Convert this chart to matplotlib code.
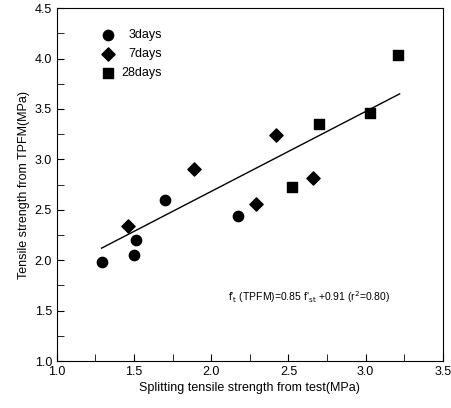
import matplotlib
matplotlib.use("Agg")
import matplotlib.pyplot as plt

# data (splitting test vs TPFM, MPa)
x_3d = [1.29, 1.51, 1.50, 1.70, 2.17]
y_3d = [1.98, 2.20, 2.05, 2.60, 2.44]
x_7d = [1.46, 1.89, 2.29, 2.42, 2.66]
y_7d = [2.34, 2.90, 2.56, 3.24, 2.82]
x_28d = [2.52, 2.70, 3.03, 3.21]
y_28d = [2.73, 3.35, 3.46, 4.04]
fit_x = [1.29, 3.22]
fit_y = [2.12, 3.65]

plt.rcParams['font.family'] = ['Liberation Sans', 'DejaVu Sans']

fig = plt.figure(figsize=(4.51, 4.08), dpi=100)
ax = fig.add_axes([0.126, 0.115, 0.856, 0.865])

ax.scatter(x_3d, y_3d, marker='o', s=55, color='black', zorder=3)
ax.scatter(x_7d, y_7d, marker='D', s=45, color='black', zorder=3)
ax.scatter(x_28d, y_28d, marker='s', s=55, color='black', zorder=3)
ax.plot(fit_x, fit_y, color='black', lw=1.0)

# legend drawn by hand so labels are right aligned
labels = ['3days', '7days', '28days']
markers = ['o', 'D', 's']
sizes = [55, 45, 55]
for i, (lab, m, s) in enumerate(zip(labels, markers, sizes)):
    yy = 0.925 - i * 0.055
    ax.scatter([0.132], [yy], marker=m, s=s, color='black', transform=ax.transAxes, clip_on=False)
    ax.text(0.272, yy, lab, ha='right', va='center', fontsize=9, transform=ax.transAxes)

ax.text(0.443, 0.18, r"f'$_{\mathrm{t}}$ (TPFM)=0.85 f'$_{\mathrm{st}}$ +0.91 (r$^{2}$=0.80)",
        fontsize=7.5, transform=ax.transAxes, va='center')

ax.set_xlim(1.0, 3.5)
ax.set_ylim(1.0, 4.5)
ax.set_xticks([1.0, 1.5, 2.0, 2.5, 3.0, 3.5])
ax.set_xticks([1.25, 1.75, 2.25, 2.75, 3.25], minor=True)
ax.set_yticks([1.0, 1.5, 2.0, 2.5, 3.0, 3.5, 4.0, 4.5])
ax.set_yticks([1.25, 1.75, 2.25, 2.75, 3.25, 3.75, 4.25], minor=True)
ax.tick_params(which='both', direction='in', top=False, right=False, labelsize=9)
ax.tick_params(which='major', length=5)
ax.tick_params(which='minor', length=5)
ax.set_xlabel('Splitting tensile strength from test(MPa)', fontsize=9, labelpad=3)
ax.set_ylabel('Tensile strength from TPFM(MPa)', fontsize=9, labelpad=3)

fig.savefig('out.png', dpi=100)
